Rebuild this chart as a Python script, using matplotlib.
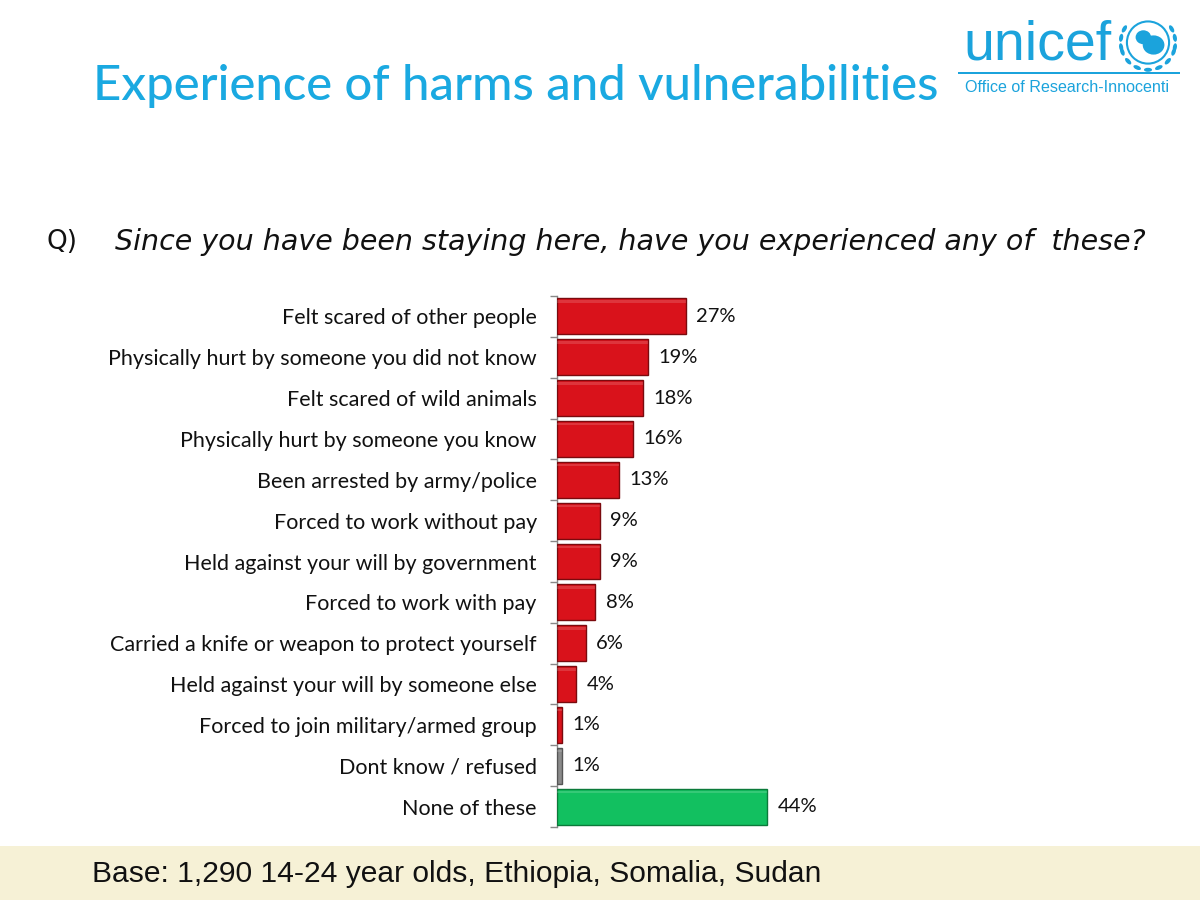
import matplotlib
matplotlib.use("Agg")
import matplotlib.pyplot as plt
from matplotlib.patches import Rectangle, Circle, Ellipse
import numpy as np

categories = [
    "Felt scared of other people",
    "Physically hurt by someone you did not know",
    "Felt scared of wild animals",
    "Physically hurt by someone you know",
    "Been arrested by army/police",
    "Forced to work without pay",
    "Held against your will by government",
    "Forced to work with pay",
    "Carried a knife or weapon to protect yourself",
    "Held against your will by someone else",
    "Forced to join military/armed group",
    "Dont know / refused",
    "None of these",
]
values = [27, 19, 18, 16, 13, 9, 9, 8, 6, 4, 1, 1, 44]
value_labels = ["27%", "19%", "18%", "16%", "13%", "9%", "9%", "8%", "6%", "4%", "1%", "1%", "44%"]
kinds = ["harm"] * 11 + ["dk", "none"]

colors = {"harm": "#d9121b", "dk": "#8a8a8a", "none": "#12c060"}
edges = {"harm": "#7a0a0e", "dk": "#555555", "none": "#0b7a3a"}

FONT = "Lato"
fig = plt.figure(figsize=(12, 9), dpi=100)
fig.patch.set_facecolor("white")

# bottom band
fig.add_artist(Rectangle((0, 0), 1, 1 - 846 / 900, transform=fig.transFigure,
                         facecolor="#f6f1d6", edgecolor="none", zorder=0))

ax = fig.add_axes([557 / 1200, 1 - 827 / 900, 238.5 / 1200, (827 - 296) / 900])
n = len(categories)
y = np.arange(n)
bar_colors = [colors[k] for k in kinds]
bar_edges = [edges[k] for k in kinds]
ax.barh(y, values, height=0.88, color=bar_colors, edgecolor=bar_edges, linewidth=1.0, zorder=3)
# subtle bevel highlight near top of bars
for yi, v in zip(y, values):
    ax.barh(yi - 0.36, v, height=0.06, color="white", alpha=0.15, linewidth=0, zorder=4)
ax.set_xlim(0, 50)
ax.set_ylim(n - 0.5, -0.5)
ax.set_yticks(y)
ax.set_yticklabels(categories, fontsize=15.5, family=FONT, color="#111111")
ax.tick_params(axis="y", which="major", length=0, pad=14.5)
ax.set_yticks(np.arange(-0.5, n, 1), minor=True)
ax.tick_params(axis="y", which="minor", length=5, color="#888888", width=1)
ax.set_xticks([])
for s in ["top", "right", "bottom"]:
    ax.spines[s].set_visible(False)
ax.spines["left"].set_color("#888888")
ax.spines["left"].set_linewidth(1)
ax.patch.set_alpha(0)

for yi, v, lab in zip(y, values, value_labels):
    ax.text(v + 2.2, yi, lab, va="center", ha="left", fontsize=14.5, family=FONT, color="#111111")

# title
fig.text(93 / 1200, 1 - 86 / 900, "Experience of harms and vulnerabilities", fontsize=35.3,
         family=FONT, fontweight="medium", color="#1aa9e1", va="center", ha="left")

# question
fig.text(47 / 1200, 1 - 242 / 900, "Q)", fontsize=19, family="DejaVu Sans", color="#111111",
         va="center", ha="left")
fig.text(115 / 1200, 1 - 242 / 900, "Since you have been staying here, have you experienced any of  these?",
         fontsize=20.5, family="DejaVu Sans", style="italic", color="#111111", va="center", ha="left")

# base
fig.text(92 / 1200, 1 - 874 / 900, "Base: 1,290 14-24 year olds, Ethiopia, Somalia, Sudan",
         fontsize=21.6, family="Liberation Sans", color="#111111", va="center", ha="left")

# logo
cyan = "#1ba3dc"
fig.text(963 / 1200, 1 - 45 / 900, "unicef", fontsize=40, family="Liberation Sans", color=cyan,
         va="center", ha="left")
fig.add_artist(Rectangle((958 / 1200, 1 - 74 / 900), 222 / 1200, 2 / 900, transform=fig.transFigure,
                         facecolor=cyan, edgecolor="none"))
fig.text(965 / 1200, 1 - 88 / 900, "Office of Research-Innocenti", fontsize=11.6, family="Liberation Sans",
         color=cyan, va="center", ha="left")
lax = fig.add_axes([1117 / 1200, 1 - 76 / 900, 62 / 1200, 62 / 900])
lax.set_xlim(-1, 1); lax.set_ylim(-1, 1); lax.set_aspect("equal"); lax.axis("off")
lax.add_patch(Circle((0, 0.08), 0.68, facecolor="white", edgecolor=cyan, lw=1.5))
lax.add_patch(Ellipse((-0.15, 0.25), 0.5, 0.45, facecolor=cyan, edgecolor="none"))
lax.add_patch(Ellipse((0.18, 0.0), 0.7, 0.62, facecolor=cyan, edgecolor="none"))
for t in list(np.linspace(200, 340, 7)) + list(np.linspace(150, 190, 3)) + list(np.linspace(-10, 30, 3)):
    r = np.deg2rad(t)
    lax.add_patch(Ellipse((0.88 * np.cos(r), 0.88 * np.sin(r) + 0.08), 0.26, 0.13, angle=t + 90,
                          facecolor=cyan, edgecolor="none"))

fig.savefig("out.png", dpi=100, facecolor="white")
